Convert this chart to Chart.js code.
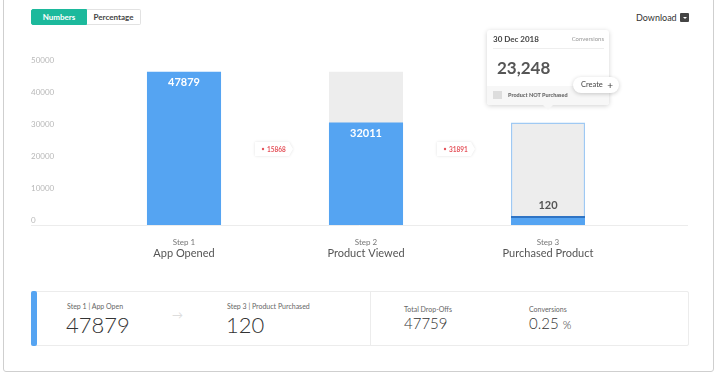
<!DOCTYPE html>
<html>
<head>
<meta charset="utf-8">
<script src="https://cdn.jsdelivr.net/npm/chart.js@4"></script>
<style>
  html, body { margin: 0; padding: 0; background: #fff; }
  body { width: 720px; height: 377px; position: relative; overflow: hidden; font-family: Lato, "Open Sans", sans-serif; color: #444; }
  .frame { position: absolute; left: 3px; top: -6px; width: 711px; height: 378px; border: 1px solid #cfcfcf; border-radius: 0 0 3px 3px; box-sizing: border-box; }
  .toggle { position: absolute; left: 31px; top: 9px; height: 16px; display: flex; font-size: 8px; font-weight: bold; }
  .toggle div { line-height: 14px; text-align: center; box-sizing: border-box; height: 16px; }
  .toggle .on { width: 56px; background: #1cb99c; color: #fff; border: 1px solid #1cb99c; border-radius: 2px 0 0 2px; }
  .toggle .off { width: 54px; border: 1px solid #e2e2e2; border-left: none; color: #444; border-radius: 0 2px 2px 0; }
  .download { position: absolute; left: 636px; top: 12px; font-size: 9px; color: #333; }
  .dlicon { position: absolute; left: 680px; top: 13px; width: 9px; height: 9px; background: #444; border-radius: 1px; }
  .dlicon:after { content: ""; position: absolute; left: 2.5px; top: 3.5px; border-left: 2px solid transparent; border-right: 2px solid transparent; border-top: 2.5px solid #fff; }
  #wrap { position: absolute; left: 31px; top: 40px; width: 657px; height: 240px; }
  .tip { position: absolute; left: 487px; top: 30px; width: 122px; height: 75px; background: #fff; border-radius: 3px; box-shadow: 0 1px 5px rgba(0,0,0,0.18); }
  .tip .head { position: absolute; left: 6px; right: 5px; top: 4px; height: 14px; font-size: 8px; font-weight: bold; color: #444; border-bottom: 1px solid #eee; }
  .tip .head span { position: absolute; right: 0; top: 1px; font-size: 6px; font-weight: normal; color: #999; }
  .tip .big { position: absolute; left: 10px; top: 27px; font-size: 17px; font-weight: bold; color: #555; }
  .tip .foot { position: absolute; left: 0; right: 0; bottom: 0; height: 19px; background: #f7f7f7; border-radius: 0 0 3px 3px; font-size: 5.5px; font-weight: bold; color: #666; }
  .tip .foot i { position: absolute; left: 6px; top: 5px; width: 9px; height: 8px; background: #ddd; }
  .tip .foot b { position: absolute; left: 21px; top: 6px; }
  .tip:after { content: ""; position: absolute; left: 56px; bottom: -5px; border-left: 5px solid transparent; border-right: 5px solid transparent; border-top: 5px solid #f7f7f7; }
  .create { position: absolute; left: 573px; top: 77px; width: 46px; height: 16px; background: #fff; border-radius: 8px; box-shadow: 0 1px 4px rgba(0,0,0,0.2); font-size: 7.5px; color: #444; line-height: 16px; text-indent: 8px; }
  .create span { position: absolute; right: 6px; top: 0; font-size: 10px; text-indent: 0; }
  .card { position: absolute; left: 31px; top: 291px; width: 658px; height: 55px; border: 1px solid #ececec; box-sizing: border-box; border-radius: 2px; }
  .card .strip { position: absolute; left: -1px; top: -1px; width: 6px; height: 55px; background: #55a4f2; border-radius: 2px; }
  .card .div { position: absolute; left: 338px; top: 0; width: 1px; height: 53px; background: #ececec; }
  .lbl { position: absolute; font-size: 7px; color: #666; }
  .num { position: absolute; font-size: 22px; font-weight: 300; color: #333; }
  .num2 { position: absolute; font-size: 15px; font-weight: 300; color: #333; }
  .arrow { position: absolute; left: 140px; top: 16px; font-size: 11px; color: #ddd; }
</style>
</head>
<body>
<div class="frame"></div>
<div class="toggle"><div class="on">Numbers</div><div class="off">Percentage</div></div>
<div class="download">Download</div>
<div class="dlicon"></div>

<div id="wrap"><canvas id="funnel"></canvas></div>

<div class="tip">
  <div class="head">30 Dec 2018<span>Conversions</span></div>
  <div class="big" id="tipValue"></div>
  <div class="foot"><i></i><b>Product NOT Purchased</b></div>
</div>
<div class="create">Create<span>+</span></div>

<div class="card">
  <div class="strip"></div>
  <div class="lbl" style="left:35px;top:10px">Step 1 | App Open</div>
  <div class="num" id="firstVal" style="left:34px;top:19px"></div>
  <div class="arrow">&#8594;</div>
  <div class="lbl" style="left:195px;top:10px">Step 3 | Product Purchased</div>
  <div class="num" id="lastVal" style="left:194px;top:19px"></div>
  <div class="div"></div>
  <div class="lbl" style="left:372px;top:13px">Total Drop-Offs</div>
  <div class="num2" id="dropVal" style="left:372px;top:22px"></div>
  <div class="lbl" style="left:497px;top:13px">Conversions</div>
  <div class="num2" id="convVal" style="left:497px;top:22px"></div>
</div>

<script>
// funnel data
const steps = ['Step 1', 'Step 2', 'Step 3'];
const stepNames = ['App Opened', 'Product Viewed', 'Purchased Product'];
const converted = [47879, 32011, 120];
const previous = [null, 47879, 32011];
const yTicks = [0, 10000, 20000, 30000, 40000, 50000];
const tooltipValue = '23,248';

const BLUE = '#55a4f2';

document.getElementById('tipValue').textContent = tooltipValue;
document.getElementById('firstVal').textContent = converted[0];
document.getElementById('lastVal').textContent = converted[converted.length - 1];
document.getElementById('dropVal').textContent = converted[0] - converted[converted.length - 1];
document.getElementById('convVal').innerHTML = (converted[converted.length - 1] / converted[0] * 100).toFixed(2) + ' <span style="font-size:11px">%</span>';

const funnelExtras = {
  id: 'funnelExtras',
  afterDatasetsDraw(chart) {
    const ctx = chart.ctx;
    const x = chart.scales.x;
    const y = chart.scales.y;
    const zeroY = y.getPixelForValue(0);
    ctx.save();
    // baseline across the whole card
    ctx.strokeStyle = '#ececec';
    ctx.lineWidth = 1;
    ctx.beginPath();
    ctx.moveTo(0, zeroY + 0.5);
    ctx.lineTo(chart.width, zeroY + 0.5);
    ctx.stroke();

    // values in the bars
    const meta = chart.getDatasetMeta(0);
    ctx.textAlign = 'center';
    ctx.textBaseline = 'middle';
    ctx.font = 'bold 11px Lato';
    meta.data.forEach((bar, i) => {
      if (i === converted.length - 1) {
        ctx.fillStyle = '#555';
        ctx.fillText(converted[i], bar.x, bar.y - 11);
      } else {
        ctx.fillStyle = '#fff';
        ctx.fillText(converted[i], bar.x, bar.y + 11);
      }
    });

    // step labels
    steps.forEach((s, i) => {
      const px = x.getPixelForValue(i);
      ctx.fillStyle = '#777';
      ctx.font = '8px Lato';
      ctx.fillText(s, px, zeroY + 17);
      ctx.fillStyle = '#555';
      ctx.font = '11px Lato';
      ctx.fillText(stepNames[i], px, zeroY + 28);
    });

    // drop-off badges
    const midY = (chart.chartArea.top + chart.chartArea.bottom) / 2 + 4;
    for (let i = 0; i < converted.length - 1; i++) {
      const cx = (x.getPixelForValue(i) + x.getPixelForValue(i + 1)) / 2 - 1;
      const w = 34, h = 14;
      const left = cx - w / 2 - 2;
      ctx.shadowColor = 'rgba(0,0,0,0.12)';
      ctx.shadowBlur = 3;
      ctx.fillStyle = '#fff';
      ctx.beginPath();
      ctx.moveTo(left, midY - h / 2);
      ctx.lineTo(left + w, midY - h / 2);
      ctx.lineTo(left + w + 4, midY);
      ctx.lineTo(left + w, midY + h / 2);
      ctx.lineTo(left, midY + h / 2);
      ctx.closePath();
      ctx.fill();
      ctx.shadowBlur = 0;
      ctx.shadowColor = 'transparent';
      ctx.fillStyle = '#e5535b';
      ctx.beginPath();
      ctx.arc(left + 8, midY, 1.2, 0, Math.PI * 2);
      ctx.fill();
      ctx.font = 'bold 6.5px Lato';
      ctx.textAlign = 'left';
      ctx.fillText(converted[i] - converted[i + 1], left + 12, midY + 0.5);
      ctx.textAlign = 'center';
    }
    ctx.restore();
  }
};

new Chart(document.getElementById('funnel'), {
  type: 'bar',
  data: {
    labels: steps,
    datasets: [
      {
        data: converted,
        backgroundColor: BLUE,
        borderColor: '#2f74c4',
        borderWidth: c => c.dataIndex === 2 ? { top: 2, left: 0, right: 0, bottom: 0 } : 0,
        borderSkipped: false,
        minBarLength: 9,
        order: 0
      },
      {
        data: previous,
        backgroundColor: '#ededed',
        borderColor: '#9fc9f3',
        borderWidth: c => c.dataIndex === 2 ? 1.5 : 0,
        borderSkipped: false,
        order: 1
      }
    ]
  },
  options: {
    responsive: true,
    maintainAspectRatio: false,
    animation: false,
    events: [],
    layout: { padding: { top: 25, bottom: 55, right: 49, left: 0 } },
    datasets: { bar: { grouped: false, categoryPercentage: 1, barPercentage: 0.407 } },
    plugins: { legend: { display: false }, tooltip: { enabled: false } },
    scales: {
      x: { display: false },
      y: {
        min: 0,
        max: 50000,
        afterBuildTicks: s => { s.ticks = yTicks.map(v => ({ value: v })); },
        afterFit: s => { s.width = 62; },
        grid: { display: false },
        border: { display: false },
        ticks: {
          crossAlign: 'far',
          labelOffset: -5,
          color: '#b8b8b8',
          font: { size: 8, family: 'Lato' },
          callback: v => String(v)
        }
      }
    }
  },
  plugins: [funnelExtras]
});
</script>
</body>
</html>
